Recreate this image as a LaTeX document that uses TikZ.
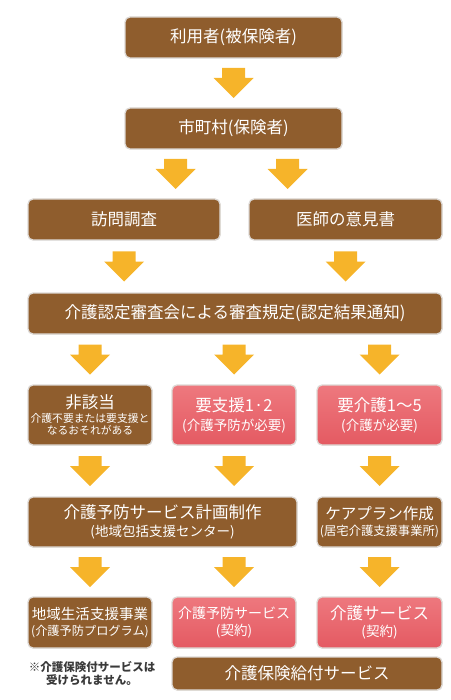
\documentclass[tikz,border=0pt]{standalone}
\usepackage{fontspec}
\newfontfamily\jpfont{Noto Sans CJK JP}
\usetikzlibrary{calc, shadows}
\definecolor{cbrown}{HTML}{8F5D2D}
\definecolor{cpinktop}{HTML}{EE787E}
\definecolor{cpinkbot}{HTML}{E45A62}
\definecolor{carrow}{HTML}{F6B42A}
\definecolor{cedge}{HTML}{DDD9D5}
\definecolor{cnote}{HTML}{3A3A3A}
\newcommand{\boxhead}[1]{{\fontsize{16.5}{18}\selectfont #1}}
\newcommand{\boxsub}[1]{{\fontsize{13.5}{15}\selectfont #1}}
\newcommand{\boxsmall}[1]{{\fontsize{10.8}{12.5}\selectfont #1}}
\tikzset{
  every picture/.style={font=\jpfont},
  box/.style={draw=cedge, line width=1.3pt, rounded corners=5pt, text=white, align=center, inner sep=0pt,
    drop shadow={shadow xshift=0.6pt, shadow yshift=-0.6pt, opacity=0.18}},
  brownbox/.style={box, fill=cbrown},
  pinkbox/.style={box, top color=cpinktop, bottom color=cpinkbot},
  fatarrow/.pic={\fill[carrow] (-11.5,-15) -- (11.5,-15) -- (11.5,-5) -- (20,-5) -- (0,15) -- (-20,-5) -- (-11.5,-5) -- cycle;},
  note/.style={font=\jpfont\bfseries\fontsize{11.5}{13.5}\selectfont, text=cnote, align=center},
}

\begin{document}
\begin{tikzpicture}[x=1pt, y=-1pt]
  \useasboundingbox (0,0) rectangle (450,700);
  % top part: application and certification
  \node[brownbox, minimum width=217, minimum height=41] (user) at (233.5,37.5) {\boxhead{利用者(被保険者)}};
  \node[brownbox, minimum width=217, minimum height=41] (city) at (233.5,128.5) {\boxhead{市町村(保険者)}};
  \node[brownbox, minimum width=192, minimum height=41] (visit) at (124,219.5) {\boxhead{訪問調査}};
  \node[brownbox, minimum width=193, minimum height=41] (doctor) at (345.5,219.5) {\boxhead{医師の意見書}};
  \node[brownbox, minimum width=414, minimum height=41] (review) at (235,313.5) {\boxhead{介護認定審査会による審査規定(認定結果通知)}};
  \pic at ($(user.south)!.5!(city.north)$) {fatarrow};
  \pic at ($($(city.south)!.5!(city.south |- visit.north)$) + (-58,0)$) {fatarrow};
  \pic at ($($(city.south)!.5!(city.south |- doctor.north)$) + (54,0)$) {fatarrow};
  \pic at ($(visit.south)!.5!(visit.south |- review.north)$) {fatarrow};
  \pic at ($(doctor.south)!.5!(doctor.south |- review.north)$) {fatarrow};
  % results of the review
  \node[brownbox, minimum width=124, minimum height=60] (none) at (90,415)
    {\boxhead{非該当}\\[1.5pt]\boxsmall{介護不要または要支援と}\\\boxsmall{なるおそれがある}};
  \node[pinkbox, minimum width=124, minimum height=60] (support) at (234,415)
    {\boxhead{要支援1·2}\\[5pt]\boxsub{(介護予防が必要)}};
  \node[pinkbox, minimum width=125, minimum height=60] (care) at (379.5,415)
    {\boxhead{要介護1〜5}\\[5pt]\boxsub{(介護が必要)}};
  \foreach \n in {none, support, care}
    \pic at ($(review.south -| \n.north)!.5!(\n.north)$) {fatarrow};
  % plans
  \node[brownbox, minimum width=269, minimum height=50] (prevplan) at (162.5,522)
    {\boxhead{介護予防サービス計画制作}\\[4pt]\boxsub{(地域包括支援センター)}};
  \node[brownbox, minimum width=125, minimum height=50] (careplan) at (379.5,522)
    {{\fontsize{15.5}{18}\selectfont ケアプラン作成}\\[4pt]{\fontsize{12.3}{14}\selectfont (居宅介護支援事業所)}};
  \pic at ($(none.south)!.5!(none.south |- prevplan.north)$) {fatarrow};
  \pic at ($(support.south)!.5!(support.south |- prevplan.north)$) {fatarrow};
  \pic at ($(care.south)!.5!(careplan.north)$) {fatarrow};
  % services
  \node[brownbox, minimum width=124, minimum height=51] (community) at (90,622.5)
    {{\fontsize{14.5}{17}\selectfont 地域生活支援事業}\\[4pt]{\fontsize{12.2}{14}\selectfont (介護予防プログラム)}};
  \node[pinkbox, minimum width=124, minimum height=51] (prevserv) at (234,622.5)
    {{\fontsize{14}{17}\selectfont 介護予防サービス}\\[4pt]\boxsub{(契約)}};
  \node[pinkbox, minimum width=125, minimum height=51] (careserv) at (379.5,622.5)
    {\boxhead{介護サービス}\\[4pt]\boxsub{(契約)}};
  \foreach \n in {community, prevserv}
    \pic at ($(prevplan.south -| \n.north)!.5!(\n.north)$) {fatarrow};
  \pic at ($(careplan.south)!.5!(careserv.north)$) {fatarrow};
  \node[brownbox, minimum width=270, minimum height=33] (benefit) at (307,673.5) {\boxhead{介護保険給付サービス}};
  \node[note] (nobenefit) at (92,673.5) {※介護保険付サービスは\\受けられません。};
\end{tikzpicture}
\end{document}
